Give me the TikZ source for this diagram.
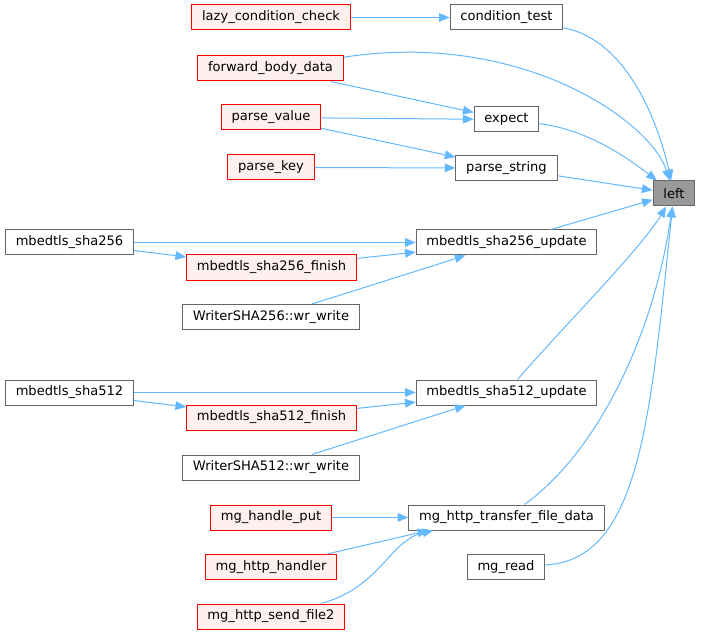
\documentclass[tikz,border=0pt]{standalone}
\usepackage{fontspec}
\setmainfont{DejaVu Sans}
\usetikzlibrary{arrows.meta}
\definecolor{edgeblue}{HTML}{63B8FF}
\definecolor{boxgray}{HTML}{666666}
\definecolor{curgray}{HTML}{999999}
\definecolor{redfill}{HTML}{FFF0F0}
\begin{document}
\begin{tikzpicture}[x=0.75pt,y=-0.75pt,
  fn/.style={draw=boxgray,fill=white,line width=0.75pt,minimum height=18.75pt,
    inner xsep=7.7pt,inner ysep=0pt,font=\fontsize{9.8pt}{11pt}\selectfont},
  fnred/.style={fn,draw=red,fill=redfill},
  fncur/.style={fn,fill=curgray},
  call/.style={draw=edgeblue,line width=0.75pt,-{Triangle[length=8pt,width=6.5pt]}}]
\useasboundingbox (0,0) rectangle (701,635);
\node[fncur] (left) at (674,193.5) {left};
\node[fn] (ct) at (506.5,17.5) {condition\_test};
\node[fnred] (lcc) at (271,17.5) {lazy\_condition\_check};
\node[fnred] (fbd) at (270.5,68.5) {forward\_body\_data};
\node[fn] (exp) at (506.5,119.5) {expect};
\node[fnred] (pv) at (271,117.5) {parse\_value};
\node[fn] (ps) at (506.5,168) {parse\_string};
\node[fnred] (pk) at (271,167.5) {parse\_key};
\node[fn] (sha256) at (69.5,242.5) {mbedtls\_sha256};
\node[fn] (up256) at (506.5,242.5) {mbedtls\_sha256\_update};
\node[fnred] (fin256) at (271.5,267.5) {mbedtls\_sha256\_finish};
\node[fn] (wr256) at (271,317) {WriterSHA256::wr\_write};
\node[fn] (sha512) at (69.5,392.5) {mbedtls\_sha512};
\node[fn] (up512) at (506.5,392.5) {mbedtls\_sha512\_update};
\node[fnred] (fin512) at (271.5,417.5) {mbedtls\_sha512\_finish};
\node[fn] (wr512) at (271,467.5) {WriterSHA512::wr\_write};
\node[fn] (mgtf) at (506.5,517.5) {mg\_http\_transfer\_file\_data};
\node[fnred] (mghp) at (271,517.5) {mg\_handle\_put};
\node[fnred] (mghh) at (271,567) {mg\_http\_handler};
\node[fnred] (mgsf) at (271,616.5) {mg\_http\_send\_file2};
\node[fn] (mgrd) at (506,567) {mg\_read};
% callers of left
\draw[call] (ct) .. controls (630,40) and (660,130) .. (left);
\draw[call] (fbd) .. controls (520,30) and (650,120) .. (left);
\draw[call] (exp) .. controls (590,130) and (630,160) .. (left);
\draw[call] (ps) -- (left);
\draw[call] (up256) -- (left);
\draw[call] (up512) .. controls (560,330) and (640,250) .. (left);
\draw[call] (mgtf) .. controls (600,450) and (655,330) .. (left);
\draw[call] (mgrd) .. controls (640,560) and (650,420) .. (left);
% second level
\draw[call] (lcc) -- (ct);
\draw[call] (fbd) -- (exp);
\draw[call] (pv) -- (exp);
\draw[call] (pv) -- (ps);
\draw[call] (pk) -- (ps);
\draw[call] (sha256) -- (up256);
\draw[call] (sha256) -- (fin256);
\draw[call] (fin256) -- (up256);
\draw[call] (wr256) -- (up256);
\draw[call] (sha512) -- (up512);
\draw[call] (sha512) -- (fin512);
\draw[call] (fin512) -- (up512);
\draw[call] (wr512) -- (up512);
\draw[call] (mghp) -- (mgtf);
\draw[call] (mghh) -- ([shift={(20,0)}]mgtf.south west);
\draw[call] (mgsf) .. controls (380,588) and (390,540) .. ([shift={(25,0)}]mgtf.south west);
\end{tikzpicture}
\end{document}
